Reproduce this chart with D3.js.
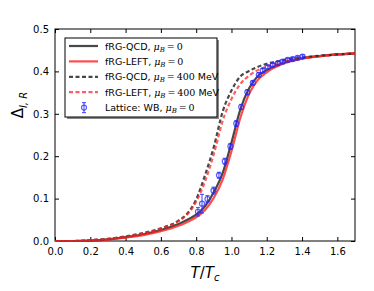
<!DOCTYPE html>
<html>
<head>
<meta charset="utf-8">
<script src="https://cdn.jsdelivr.net/npm/d3@7"></script>
<style>
body { margin: 0; background: #fff; }
text { font-family: "DejaVu Sans", sans-serif; }
</style>
</head>
<body>
<div id="chart"></div>
<script>
// temperature grid, T/Tc
let tGrid = [0, 0.1, 0.2, 0.3, 0.4, 0.5, 0.6, 0.7, 0.75, 0.8, 0.85, 0.9, 0.95, 1.0, 1.05, 1.1, 1.15, 1.2, 1.3, 1.4, 1.5, 1.6, 1.7];
let qcd0    = [0, 0, 0.001, 0.004, 0.009, 0.016, 0.026, 0.040, 0.050, 0.062, 0.082, 0.115, 0.160, 0.232, 0.310, 0.360, 0.389, 0.403, 0.421, 0.431, 0.436, 0.440, 0.442];
let left0   = [0, 0, 0.001, 0.003, 0.008, 0.014, 0.023, 0.036, 0.045, 0.056, 0.073, 0.102, 0.145, 0.212, 0.290, 0.347, 0.380, 0.398, 0.419, 0.430, 0.436, 0.440, 0.443];
let qcd400  = [0, 0, 0.002, 0.005, 0.011, 0.019, 0.030, 0.048, 0.065, 0.098, 0.155, 0.222, 0.305, 0.355, 0.388, 0.401, 0.411, 0.418, 0.427, 0.433, 0.437, 0.440, 0.442];
let left400 = [0, 0, 0.002, 0.005, 0.010, 0.018, 0.029, 0.047, 0.063, 0.093, 0.140, 0.205, 0.283, 0.335, 0.370, 0.390, 0.403, 0.411, 0.423, 0.431, 0.436, 0.440, 0.442];

// lattice WB, mu_B = 0
let latT   = [0.810, 0.833, 0.864, 0.898, 0.929, 0.962, 0.994, 1.027, 1.055, 1.090, 1.121, 1.155, 1.177, 1.206, 1.234, 1.262, 1.290, 1.319, 1.347, 1.375, 1.403];
let latV   = [0.069, 0.088, 0.099, 0.119, 0.155, 0.188, 0.223, 0.277, 0.316, 0.351, 0.373, 0.392, 0.402, 0.410, 0.415, 0.419, 0.423, 0.427, 0.429, 0.432, 0.435];
let latErr = [0.010, 0.022, 0.008, 0.008, 0.007, 0.007, 0.007, 0.007, 0.006, 0.006, 0.005, 0.005, 0.005, 0.004, 0.004, 0.004, 0.004, 0.004, 0.004, 0.004, 0.004];

let xTicks = [0.0, 0.2, 0.4, 0.6, 0.8, 1.0, 1.2, 1.4, 1.6];
let yTicks = [0.0, 0.1, 0.2, 0.3, 0.4, 0.5];

let margin = {top: 29, right: 19, left: 55, bottom: 50};
let width = 374 - margin.left - margin.right;
let height = 291 - margin.top - margin.bottom;

let svg = d3.select("#chart")
    .append("svg")
    .attr("width", 374)
    .attr("height", 291);

let g = svg.append("g")
    .attr("transform", "translate(" + margin.left + "," + margin.top + ")");

let x = d3.scaleLinear().domain([0, 1.7]).range([0, width]);
let y = d3.scaleLinear().domain([0, 0.5]).range([height, 0]);

// frame and inward ticks
g.append("rect")
    .attr("width", width)
    .attr("height", height)
    .attr("fill", "none")
    .attr("stroke", "#000")
    .attr("stroke-width", 1);

function tickAxis(axis, transform, labels) {
    let a = g.append("g").attr("transform", transform).call(axis);
    a.select(".domain").remove();
    a.selectAll("line").attr("stroke", "#000");
    a.selectAll("text").attr("font-size", 10).attr("fill", "#000");
    if (!labels) a.selectAll("text").remove();
    return a;
}

tickAxis(d3.axisBottom(x).tickValues(xTicks).tickFormat(d3.format(".1f")).tickSizeInner(-4).tickPadding(7),
    "translate(0," + height + ")", true);
tickAxis(d3.axisTop(x).tickValues(xTicks).tickSizeInner(-4), "translate(0,0)", false);
tickAxis(d3.axisLeft(y).tickValues(yTicks).tickFormat(d3.format(".1f")).tickSizeInner(-4).tickPadding(6),
    "translate(0,0)", true);
tickAxis(d3.axisRight(y).tickValues(yTicks).tickSizeInner(-4), "translate(" + width + ",0)", false);

// curves
let line = d3.line()
    .x((d, i) => x(tGrid[i]))
    .y(d => y(d))
    .curve(d3.curveMonotoneX);

let series = [
    {vals: qcd0, color: "rgba(40,40,40,0.85)", dash: null},
    {vals: left0, color: "rgba(255,30,30,0.8)", dash: null},
    {vals: qcd400, color: "rgba(40,40,40,0.85)", dash: "4,2.5"},
    {vals: left400, color: "rgba(255,40,40,0.75)", dash: "4,2.5"}
];

series.forEach(s => {
    g.append("path")
        .datum(s.vals)
        .attr("d", line)
        .attr("fill", "none")
        .attr("stroke", s.color)
        .attr("stroke-width", 2.2)
        .attr("stroke-dasharray", s.dash);
});

// lattice points
let lat = latT.map((t, i) => ({t: t, v: latV[i], e: latErr[i]}));
let pts = g.append("g").selectAll("g")
    .data(lat)
    .enter()
    .append("g")
    .attr("stroke", "rgba(40,40,255,0.75)")
    .attr("fill", "none")
    .attr("stroke-width", 1.2);

pts.append("line")
    .attr("x1", d => x(d.t)).attr("x2", d => x(d.t))
    .attr("y1", d => y(d.v - d.e)).attr("y2", d => y(d.v + d.e));
pts.append("line")
    .attr("x1", d => x(d.t) - 2).attr("x2", d => x(d.t) + 2)
    .attr("y1", d => y(d.v - d.e)).attr("y2", d => y(d.v - d.e));
pts.append("line")
    .attr("x1", d => x(d.t) - 2).attr("x2", d => x(d.t) + 2)
    .attr("y1", d => y(d.v + d.e)).attr("y2", d => y(d.v + d.e));
pts.append("circle")
    .attr("cx", d => x(d.t))
    .attr("cy", d => y(d.v))
    .attr("r", 2.5);

// legend
let legend = svg.append("g").attr("transform", "translate(65,38)");
legend.append("rect")
    .attr("x", 2).attr("y", 2)
    .attr("width", 152).attr("height", 79)
    .attr("fill", "#888");
legend.append("rect")
    .attr("width", 152).attr("height", 79)
    .attr("fill", "#fff")
    .attr("stroke", "#000")
    .attr("stroke-width", 1);

let legendRows = [
    {label: "fRG-QCD, ", mev: false, s: series[0]},
    {label: "fRG-LEFT, ", mev: false, s: series[1]},
    {label: "fRG-QCD, ", mev: true, s: series[2]},
    {label: "fRG-LEFT, ", mev: true, s: series[3]},
    {label: "Lattice: WB, ", mev: false, s: null}
];

legendRows.forEach((r, i) => {
    let ry = 8 + i * 15.4;
    if (r.s) {
        legend.append("line")
            .attr("x1", 4).attr("x2", 33)
            .attr("y1", ry).attr("y2", ry)
            .attr("stroke", r.s.color)
            .attr("stroke-width", 2.2)
            .attr("stroke-dasharray", r.s.dash);
    } else {
        let lg = legend.append("g")
            .attr("stroke", "rgba(40,40,255,0.75)")
            .attr("fill", "none")
            .attr("stroke-width", 1.2);
        lg.append("line").attr("x1", 19).attr("x2", 19).attr("y1", ry - 5).attr("y2", ry + 5);
        lg.append("line").attr("x1", 17).attr("x2", 21).attr("y1", ry - 5).attr("y2", ry - 5);
        lg.append("line").attr("x1", 17).attr("x2", 21).attr("y1", ry + 5).attr("y2", ry + 5);
        lg.append("circle").attr("cx", 19).attr("cy", ry).attr("r", 2.5);
    }
    let t = legend.append("text")
        .attr("x", 40).attr("y", ry + 3.5)
        .attr("font-size", 9.5)
        .attr("fill", "#000");
    t.append("tspan").text(r.label);
    t.append("tspan").attr("font-style", "italic").attr("font-family", "DejaVu Serif, serif").text("μ");
    t.append("tspan").attr("font-style", "italic").attr("font-family", "DejaVu Serif, serif")
        .attr("font-size", 7).attr("dy", 2).text("B");
    t.append("tspan").attr("dy", -2).attr("font-family", "DejaVu Serif, serif").text(r.mev ? "\u2009=\u2009400" : "\u2009=\u20090");
    if (r.mev) t.append("tspan").text(" MeV");
});

// axis labels
let xl = svg.append("text")
    .attr("x", margin.left + width / 2)
    .attr("y", 278)
    .attr("text-anchor", "middle")
    .attr("font-size", 15)
    .attr("font-family", "DejaVu Serif, serif")
    .attr("font-style", "italic");
xl.append("tspan").text("T");
xl.append("tspan").attr("font-style", "normal").text("/");
xl.append("tspan").text("T");
xl.append("tspan").attr("font-size", 10).attr("dy", 3).text("c");

let yl = svg.append("text")
    .attr("transform", "translate(23,105) rotate(-90)")
    .attr("text-anchor", "middle")
    .attr("font-size", 15)
    .attr("font-family", "DejaVu Serif, serif");
yl.append("tspan").text("Δ");
yl.append("tspan").attr("font-size", 10).attr("dy", 4).attr("font-style", "italic").text("l, R");
</script>
</body>
</html>
